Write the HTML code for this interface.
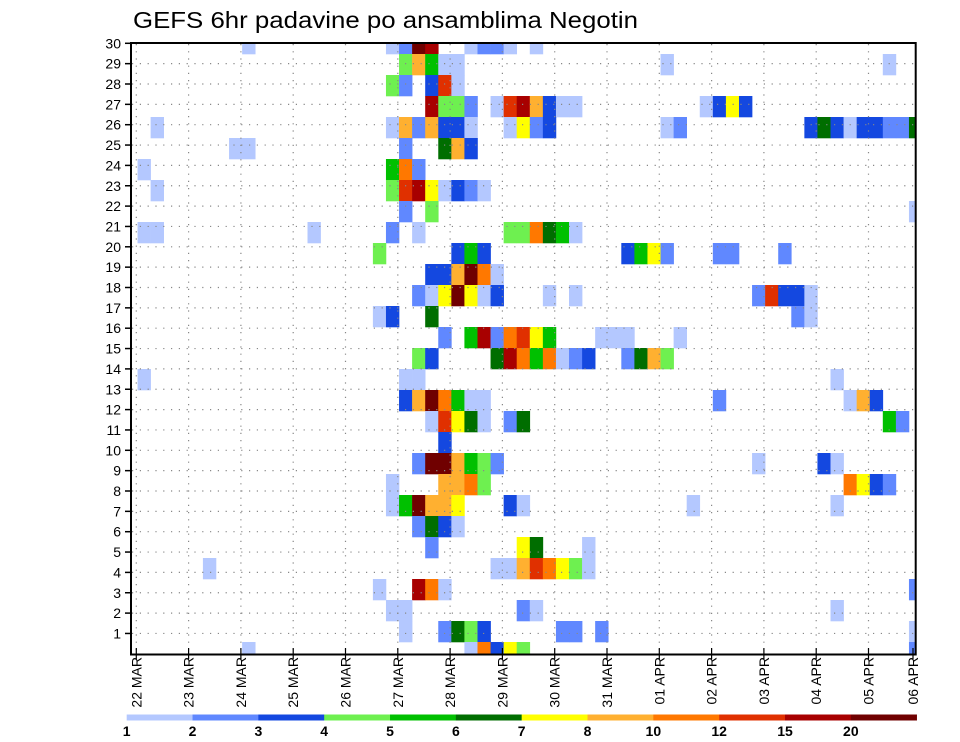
<!DOCTYPE html>
<html><head><meta charset="utf-8"><style>
html,body{margin:0;padding:0;background:#fff;}
svg{display:block;font-family:"Liberation Sans",sans-serif;}
</style></head><body>
<svg id="chart" width="960" height="742" viewBox="0 0 960 742" xmlns="http://www.w3.org/2000/svg">
<text x="133" y="28" font-size="23" textLength="505" lengthAdjust="spacingAndGlyphs" fill="#000">GEFS 6hr padavine po ansamblima Negotin</text>
<defs><clipPath id="plotclip"><rect x="131" y="43" width="785" height="611.5"/></clipPath></defs>
<g id="cells" clip-path="url(#plotclip)"></g>
<g id="grid"></g>
<rect x="131" y="43" width="784.7" height="611.5" fill="none" stroke="#000" stroke-width="2"/>
<g id="axes"></g>
<g id="legend"></g>
</svg>
<script>
// ---- data ----
const dateLabels = ["22  MAR","23  MAR","24  MAR","25  MAR","26  MAR","27  MAR","28  MAR","29  MAR","30  MAR","31  MAR","01  APR","02  APR","03  APR","04  APR","05  APR","06  APR"];
const memberLabels = [30,29,28,27,26,25,24,23,22,21,20,19,18,17,16,15,14,13,12,11,10,9,8,7,6,5,4,3,2,1];
const legendLabels = ["1","2","3","4","5","6","7","8","10","12","15","20"];
const classColors = ["#b4c8ff","#6088ff","#1448e0","#6ef050","#00c000","#006e00","#ffff00","#ffb030","#ff7800","#e03000","#a80000","#700000"];
// per display row (top to bottom): "timeStep:class" entries (class 1..12)
const rowCells = [
"9:1 20:1 21:2 22:12 23:11 26:1 27:2 28:2 29:1 31:1",
"21:4 22:8 23:5 24:1 25:1 41:1 58:1",
"20:4 21:2 23:3 24:10 25:1",
"23:11 24:4 25:4 26:2 28:1 29:10 30:11 31:8 32:3 33:1 34:1 44:1 45:3 46:7 47:3",
"2:1 20:1 21:8 22:2 23:8 24:3 25:3 26:1 29:1 30:7 31:2 32:3 41:1 42:2 52:3 53:6 54:3 55:1 56:3 57:3 58:2 59:2 60:6",
"8:1 9:1 21:2 24:6 25:8 26:3",
"1:1 20:5 21:9 22:2",
"2:1 20:4 21:10 22:11 23:7 24:1 25:3 26:2 27:1",
"21:2 23:4 60:1",
"1:1 2:1 14:1 20:2 22:1 29:4 30:4 31:9 32:6 33:5 34:1",
"19:4 25:3 26:5 27:3 38:3 39:5 40:7 41:2 45:2 46:2 50:2",
"23:3 24:3 25:8 26:12 27:9 28:1",
"22:2 23:1 24:7 25:12 26:7 27:1 28:3 32:1 34:1 48:2 49:10 50:3 51:3 52:1",
"19:1 20:3 23:6 51:2 52:1",
"24:2 26:5 27:11 28:2 29:9 30:10 31:7 32:5 36:1 37:1 38:1 42:1",
"22:4 23:3 28:6 29:11 30:9 31:5 32:9 33:1 34:2 35:3 38:2 39:6 40:8 41:4",
"1:1 21:1 22:1 54:1",
"21:3 22:8 23:12 24:9 25:5 26:1 27:1 45:2 55:1 56:8 57:3",
"23:1 24:10 25:7 26:6 27:1 29:2 30:6 58:5 59:2",
"24:3",
"22:2 23:12 24:12 25:8 26:5 27:4 28:2 48:1 53:3 54:1",
"20:1 24:8 25:8 26:9 27:4 55:9 56:7 57:3 58:2",
"20:1 21:5 22:12 23:8 24:8 25:7 29:3 30:1 43:1 54:1",
"22:2 23:6 24:3 25:1",
"23:2 30:7 31:6 35:1",
"6:1 28:1 29:1 30:8 31:10 32:9 33:7 34:4 35:1",
"19:1 22:11 23:9 24:1 60:2",
"20:1 21:1 30:2 31:1 54:1",
"21:1 24:2 25:6 26:4 27:3 33:2 34:2 36:2 60:1",
"9:1 26:1 27:9 28:3 29:7 30:4 60:2"
];
// ---- scales ----
const NS="http://www.w3.org/2000/svg";
const X0=131, DX=13.075;
const xStep = j => X0 + DX*j;
const rowTop = k => 33 + 21*k;
const yMember = r => 43.3 + 20.35*(30-r);
const dayGrid = d => 136.3 + 52.3*d;
function mk(tag, attrs, parent){const e=document.createElementNS(NS,tag);for(const a in attrs)e.setAttribute(a,attrs[a]);parent.appendChild(e);return e;}
const cellsG=document.getElementById('cells'), gridG=document.getElementById('grid'), axesG=document.getElementById('axes'), legG=document.getElementById('legend');
rowCells.forEach((s,k)=>{
  s.trim().split(/\s+/).forEach(p=>{
    const [j,c]=p.split(':').map(Number);
    const r=mk('rect',{x:(xStep(j)-DX/2).toFixed(2),y:rowTop(k),width:(DX+0.3).toFixed(2),height:21.3,fill:classColors[c-1]},cellsG);
    
    
  });
});
for(let d=0; d<15; d++){
  const l=mk('line',{x1:dayGrid(d),x2:dayGrid(d),y1:44,y2:654,stroke:"#888","stroke-width":1.2,"stroke-dasharray":"1.2 6"},gridG);
  
  
}
memberLabels.forEach(r=>{
  const y=yMember(r);
  const l=mk('line',{x1:132,x2:915,y1:y,y2:y,stroke:"#888","stroke-width":1.2,"stroke-dasharray":"1.2 6.6"},gridG);
  
  
  const t=mk('line',{x1:125,x2:131,y1:y,y2:y,stroke:"#000","stroke-width":1.5},axesG);
  
  
  const tx=mk('text',{x:121,y:y+5,"font-size":14,"text-anchor":"end",fill:"#000"},axesG);
  tx.textContent=r;
  
  
});
dateLabels.forEach((lab,d)=>{
  const x = d<15 ? dayGrid(d) : 913;
  const t=mk('line',{x1:x,x2:x,y1:648,y2:659,stroke:"#000","stroke-width":1.2},axesG);
  
  
  const tx=mk('text',{transform:`translate(${x+5},657) rotate(-90)`,"font-size":14,"text-anchor":"end",fill:"#000","xml:space":"preserve"},axesG);
  tx.textContent=lab;
  
  
});
const LX0=126.7, LW=65.83;
classColors.forEach((c,i)=>{
  const r=mk('rect',{x:LX0+LW*i,y:714.5,width:LW+0.3,height:6,fill:c},legG);
  
  
});
legendLabels.forEach((lab,i)=>{
  const t=mk('text',{x:LX0+LW*i,y:736,"font-size":14,"font-weight":"bold","text-anchor":"middle",fill:"#000"},legG);
  t.textContent=lab;
  
  
});
</script>
</body></html>
